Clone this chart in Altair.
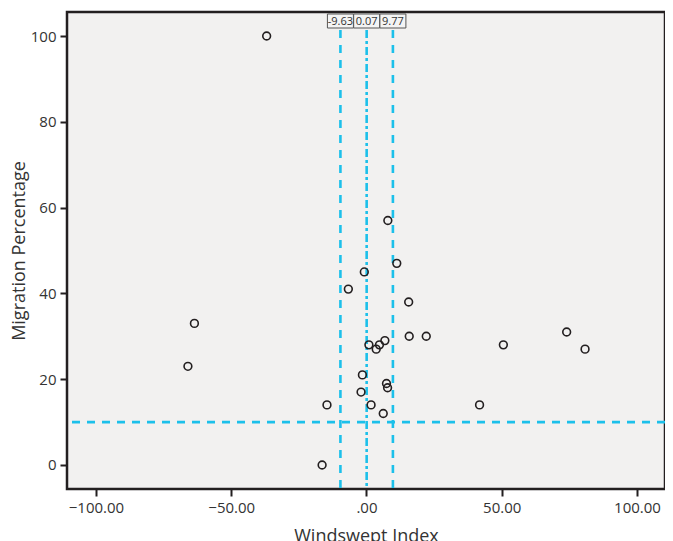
import altair as alt
import pandas as pd

# Scatter data
windswept = [-36.9, -63.6, -66.0, -6.7, -0.8, 7.9, 11.2, 15.6, 15.8, 22.1,
             0.9, 3.6, 4.8, 6.8, -1.5, 7.4, 7.8, -2.0, 1.7, 6.2,
             -14.6, -16.4, 41.8, 50.6, 74.0, 80.8]
migration = [100, 33, 23, 41, 45, 57, 47, 38, 30, 30,
             28, 27, 28, 29, 21, 19, 18, 17, 14, 12,
             14, 0, 14, 28, 31, 27]

# Reference lines
dashed_x = [-9.63, 9.77]
dashdot_x = [0.07]
ref_y = [10]
label_x = [-9.63, 0.07, 9.77]
label_text = ["-9.63", "0.07", "9.77"]

pts = pd.DataFrame({"w": windswept, "m": migration})
dashed_df = pd.DataFrame({"x": dashed_x})
dashdot_df = pd.DataFrame({"x": dashdot_x})
hline_df = pd.DataFrame({"y": ref_y})
lab_df = pd.DataFrame({"x": label_x, "t": label_text})

FONT = "Open Sans"
CYAN = "#1cc0ea"

xscale = alt.Scale(domain=[-110.7, 110.35], nice=False, zero=False)
yscale = alt.Scale(domain=[-5.6, 105.6], nice=False, zero=False)

xaxis = alt.Axis(
    title="Windswept Index",
    values=[-100, -50, 0, 50, 100],
    labelExpr="datum.value == 0 ? '.00' : format(datum.value, '.2f')",
    grid=False, domain=False,
    tickColor="#231f20", tickWidth=2, tickSize=7,
    labelFont=FONT, labelFontSize=15, labelColor="#333333", labelPadding=4,
    labelOverlap=False, labelFlush=False,
    titleFont=FONT, titleFontSize=18, titleFontWeight="normal",
    titleColor="#333333", titlePadding=12,
)
yaxis = alt.Axis(
    title="Migration Percentage",
    values=[0, 20, 40, 60, 80, 100],
    grid=False, domain=False,
    tickColor="#231f20", tickWidth=2, tickSize=7,
    labelFont=FONT, labelFontSize=15, labelColor="#333333", labelPadding=4,
    titleFont=FONT, titleFontSize=18, titleFontWeight="normal",
    titleColor="#333333", titlePadding=2,
)

base_pts = alt.Chart(pts).mark_point(
    shape="circle", filled=False, size=60, stroke="#231f20", strokeWidth=1.6, opacity=1
).encode(
    x=alt.X("w:Q", scale=xscale, axis=xaxis),
    y=alt.Y("m:Q", scale=yscale, axis=yaxis),
)

hline = alt.Chart(hline_df).mark_rule(
    color=CYAN, strokeWidth=2.6, strokeDash=[8, 7]
).encode(y=alt.Y("y:Q", scale=yscale))

vdash = alt.Chart(dashed_df).mark_rule(
    color=CYAN, strokeWidth=2.6, strokeDash=[8, 7]
).encode(x=alt.X("x:Q", scale=xscale), y=alt.value(18), y2=alt.value(477))

vdashdot = alt.Chart(dashdot_df).mark_rule(
    color=CYAN, strokeWidth=2.6, strokeDash=[8, 3, 3, 3]
).encode(x=alt.X("x:Q", scale=xscale), y=alt.value(18), y2=alt.value(477))

boxes = alt.Chart(lab_df).mark_rect(
    width=26, fill="#f4f4f4", stroke="#555555", strokeWidth=1
).encode(x=alt.X("x:Q", scale=xscale), y=alt.value(2), y2=alt.value(16))

texts = alt.Chart(lab_df).mark_text(
    font=FONT, fontSize=11, color="#333333", baseline="middle", align="center"
).encode(x=alt.X("x:Q", scale=xscale), y=alt.value(9.5), text="t:N")

chart = alt.layer(hline, vdash, vdashdot, base_pts, boxes, texts).properties(
    width=598, height=477,
    background="white",
    autosize=alt.AutoSizeParams(type="none"),
    padding={"left": 59, "top": 4, "right": 0, "bottom": 52},
).configure_view(
    stroke="#231f20", strokeWidth=2.5, fill="#f2f1f0"
)

chart.save("out.html", embed_options={"renderer": "svg", "actions": False})
